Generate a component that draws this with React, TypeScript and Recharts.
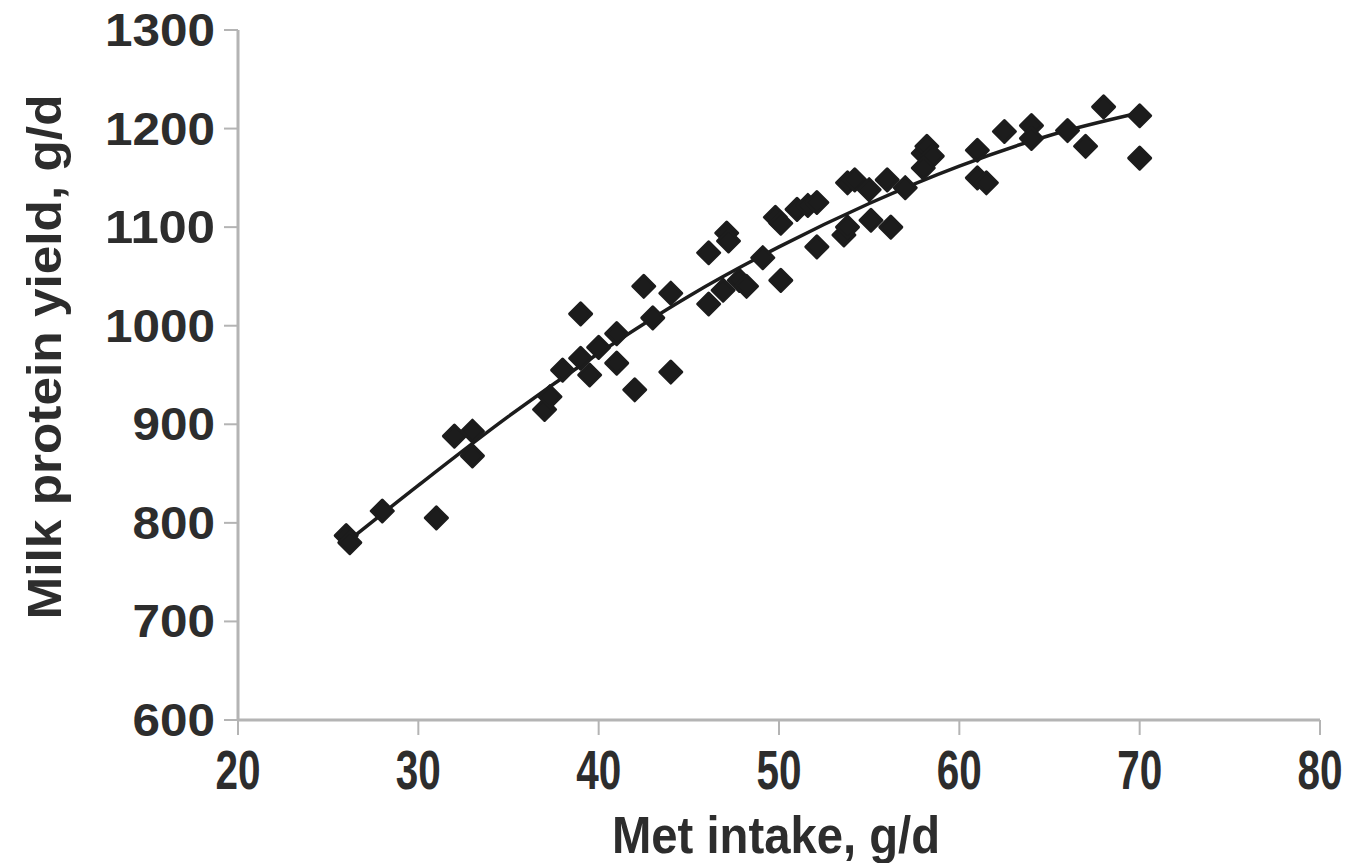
import { ComposedChart, Scatter, Line, XAxis, YAxis, Label } from 'recharts';

document.body.style.margin = '0';

// observed points: Met intake (g/d) vs milk protein yield (g/d)
const metIntake = [
    26, 26.2, 28, 31, 32, 33, 33, 37, 37.3, 38,
    39, 39, 39.5, 40, 41, 41, 42, 42.5, 43, 44,
    44, 46.1, 46.1, 46.9, 47.1, 47.2, 47.8, 48.2, 49.1, 49.8,
    50.1, 50.1, 51, 51.6, 52.1, 52.1, 53.6, 53.8, 53.8, 54.2,
    55.1, 55, 56, 56.2, 57, 58, 58.2, 58.5, 58, 61,
    61, 61.5, 62.5, 64, 64, 66, 67, 68, 70, 70,
];
const proteinYield = [
    787, 780, 812, 805, 888, 893, 868, 915, 928, 955,
    1012, 967, 950, 978, 992, 962, 935, 1040, 1008, 1033,
    953, 1074, 1022, 1036, 1094, 1086, 1046, 1040, 1069, 1110,
    1104, 1046, 1118, 1122, 1125, 1080, 1092, 1100, 1145, 1148,
    1107, 1138, 1148, 1100, 1140, 1175, 1182, 1172, 1160, 1178,
    1150, 1145, 1197, 1203, 1190, 1198, 1182, 1222, 1213, 1170,
];

// fitted curve
const trendX = [26, 30, 35, 40, 45, 50, 55, 60, 65, 70];
const trendY = [780, 838, 908, 972, 1030, 1080, 1124, 1162, 1193, 1216];

const xTicks = [20, 30, 40, 50, 60, 70, 80];
const yTicks = [600, 700, 800, 900, 1000, 1100, 1200, 1300];

const points = metIntake.map((x, i) => ({ x, y: proteinYield[i] }));
const trend = trendX.map((x, i) => ({ x, y: trendY[i] }));

const ink = '#1c1c1c';
const textColor = '#2d2d2d';
const axisColor = '#b4b4b4';
const font = '"Liberation Sans", Arial, sans-serif';

const Diamond = (props: any) => {
    const { cx, cy } = props;
    const r = 11;
    return (
        <path
            d={`M${cx},${cy - r}L${cx + r},${cy}L${cx},${cy + r}L${cx - r},${cy}Z`}
            fill={ink}
            stroke={ink}
            strokeWidth={3}
            strokeLinejoin="round"
        />
    );
};

const XTick = (props: any) => {
    const { x, y, payload } = props;
    const s = String(payload.value);
    return (
        <text
            x={x}
            y={y + 52}
            textAnchor="middle"
            fontSize={56}
            fontWeight="bold"
            fontFamily={font}
            fill={textColor}
            textLength={s.length * 22.5}
            lengthAdjust="spacingAndGlyphs"
        >
            {s}
        </text>
    );
};

const YTick = (props: any) => {
    const { x, y, payload } = props;
    const s = String(payload.value);
    return (
        <text
            x={x}
            y={y + 16}
            textAnchor="end"
            fontSize={46}
            fontWeight="bold"
            fontFamily={font}
            fill={textColor}
            textLength={s.length * 27.5}
            lengthAdjust="spacingAndGlyphs"
        >
            {s}
        </text>
    );
};

const XTitle = () => (
    <text
        x={776}
        y={853}
        textAnchor="middle"
        fontSize={52}
        fontWeight="bold"
        fontFamily={font}
        fill={textColor}
        textLength={328}
        lengthAdjust="spacingAndGlyphs"
    >
        Met intake, g/d
    </text>
);

const YTitle = () => (
    <text
        x={0}
        y={0}
        transform="translate(61, 357) rotate(-90)"
        textAnchor="middle"
        fontSize={49}
        fontWeight="bold"
        fontFamily={font}
        fill={textColor}
        textLength={525}
        lengthAdjust="spacingAndGlyphs"
    >
        Milk protein yield, g/d
    </text>
);

export default function App() {
    return (
        <div style={{ width: 1355, height: 863, background: '#fff' }}>
            <ComposedChart width={1355} height={863} margin={{ top: 30, right: 35, left: 0, bottom: 0 }}>
                <XAxis
                    type="number"
                    dataKey="x"
                    domain={[20, 80]}
                    ticks={xTicks}
                    height={143}
                    tick={<XTick />}
                    tickSize={15}
                    tickMargin={2}
                    axisLine={{ stroke: axisColor, strokeWidth: 3 }}
                    tickLine={{ stroke: axisColor, strokeWidth: 2 }}
                    allowDataOverflow
                >
                    <Label content={<XTitle />} />
                </XAxis>
                <YAxis
                    type="number"
                    dataKey="y"
                    domain={[600, 1300]}
                    ticks={yTicks}
                    width={238}
                    tick={<YTick />}
                    tickSize={14}
                    tickMargin={9}
                    axisLine={{ stroke: axisColor, strokeWidth: 3 }}
                    tickLine={{ stroke: axisColor, strokeWidth: 2 }}
                    allowDataOverflow
                >
                    <Label content={<YTitle />} />
                </YAxis>
                <Line
                    data={trend}
                    dataKey="y"
                    type="monotone"
                    stroke={ink}
                    strokeWidth={3.5}
                    dot={false}
                    activeDot={false}
                    isAnimationActive={false}
                />
                <Scatter data={points} dataKey="y" fill={ink} shape={Diamond} isAnimationActive={false} />
            </ComposedChart>
        </div>
    );
}
